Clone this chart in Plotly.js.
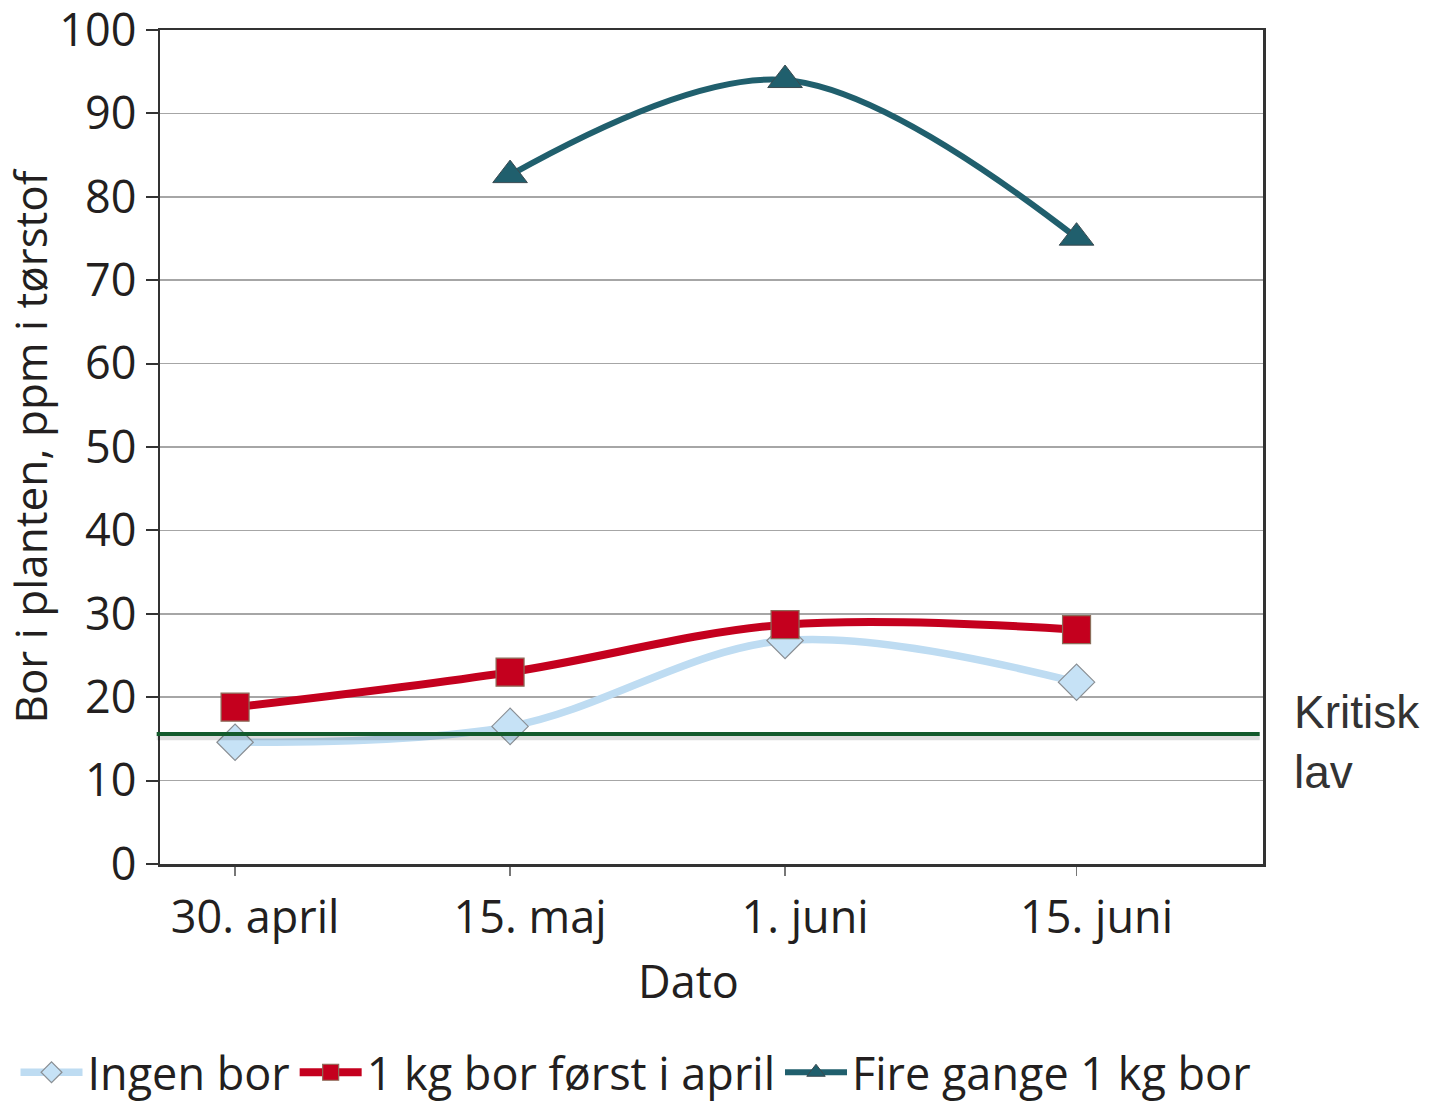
<!DOCTYPE html>
<html>
<head>
<meta charset="utf-8">
<script src="https://cdn.plot.ly/plotly-3.0.1.min.js"></script>
<style>html,body{margin:0;padding:0;background:#fff;}#chart{width:1429px;height:1106px;}</style>
</head>
<body>
<div id="chart"></div>
<script>
// Category positions on the date axis and labels
var xPos = [0, 1, 2, 3.06];
var tickLabels = ["30. april", "15. maj", "1. juni", "15. juni"];
var yTicks = [0, 10, 20, 30, 40, 50, 60, 70, 80, 90, 100];

// Series values (ppm boron in dry matter)
var ingenBor = [14.6, 16.5, 26.8, 21.8];
var kgFoerstApril = [18.8, 23.0, 28.7, 28.1];
var fireGange = [null, 82.6, 94.0, 75.1];

var seriesNames = ["Ingen bor", "1 kg bor først i april", "Fire gange 1 kg bor"];
var kritiskLav = 15.6;

var FONT = "Open Sans, sans-serif";
var TXT = "#231f20";

var traces = [
  {
    x: xPos, y: ingenBor, name: seriesNames[0], type: "scatter", mode: "lines+markers",
    line: {color: "#bedcf2", width: 7.5, shape: "spline", smoothing: 1},
    marker: {symbol: "diamond", size: 28, color: "#c6e2f6", line: {color: "#8a8f94", width: 1.2}}
  },
  {
    x: xPos, y: kgFoerstApril, name: seriesNames[1], type: "scatter", mode: "lines+markers",
    line: {color: "#c4001e", width: 8, shape: "spline", smoothing: 1},
    marker: {symbol: "square", size: 28, color: "#c4001e", line: {color: "#8c6d5a", width: 1.2}}
  },
  {
    x: xPos, y: fireGange, name: seriesNames[2], type: "scatter", mode: "lines+markers",
    line: {color: "#205f6d", width: 6, shape: "spline", smoothing: 1},
    marker: {symbol: "triangle-up", size: 30, color: "#205f6d", line: {color: "#3a4a50", width: 1}}
  }
];

var layout = {
  width: 1429, height: 1106,
  margin: {l: 160, r: 166, t: 30, b: 242, autoexpand: false},
  paper_bgcolor: "#ffffff", plot_bgcolor: "#ffffff",
  font: {family: FONT, color: TXT, size: 44},
  showlegend: true,
  legend: {
    orientation: "h", x: -0.131, xanchor: "left", y: -0.25, yanchor: "middle",
    font: {family: FONT, size: 45, color: TXT}, itemwidth: 62, tracegroupgap: 0,
    bgcolor: "rgba(0,0,0,0)"
  },
  xaxis: {
    range: [-0.273, 3.738],
    tickvals: xPos, ticktext: tickLabels,
    ticks: "outside", ticklen: 9, tickwidth: 1.2, tickcolor: "#777",
    ticklabelshift: 20, ticklabelstandoff: 3,
    tickfont: {family: FONT, size: 45, color: TXT},
    showgrid: false, zeroline: false,
    showline: true, linecolor: "#333", linewidth: 2.5, mirror: true
  },
  yaxis: {
    range: [0, 100], tickvals: yTicks,
    ticks: "outside", ticklen: 12, tickwidth: 2, tickcolor: "#333",
    ticklabeloverflow: "allow",
    tickfont: {family: FONT, size: 45, color: TXT},
    showgrid: true, gridcolor: "#a6a6a6", gridwidth: 1.5,
    zeroline: false,
    showline: true, linecolor: "#333", linewidth: 2.5, mirror: true,
    title: {text: "Bor i planten, ppm i tørstof", font: {family: FONT, size: 44, color: TXT}, standoff: 2}
  },
  shapes: [
    {type: "line", xref: "paper", yref: "y", x0: -0.003, x1: 0.997, y0: kritiskLav - 0.45, y1: kritiskLav - 0.45,
     line: {color: "rgba(0,0,0,0.13)", width: 5}, layer: "above"},
    {type: "line", xref: "paper", yref: "y", x0: -0.003, x1: 0.997, y0: kritiskLav, y1: kritiskLav,
     line: {color: "#135a2c", width: 4}, layer: "above"}
  ],
  annotations: [
    {xref: "paper", yref: "paper", x: 0.479, y: -0.14, xanchor: "center", yanchor: "middle",
     text: "Dato", showarrow: false, font: {family: FONT, size: 45, color: TXT}},
    {xref: "paper", yref: "y", x: 1.026, y: kritiskLav - 1, xanchor: "left", yanchor: "middle",
     text: "Kritisk<br>lav", showarrow: false, align: "left",
     font: {family: "Liberation Sans, Arial, sans-serif", size: 46, color: "#333"}}
  ]
};

Plotly.newPlot("chart", traces, layout, {displayModeBar: false, staticPlot: true});
</script>
</body>
</html>
